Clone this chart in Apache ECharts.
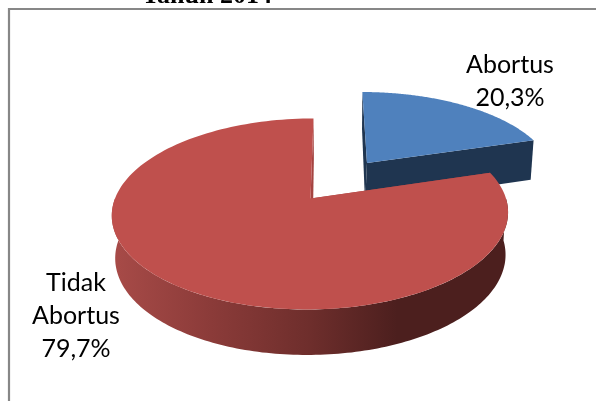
<!DOCTYPE html>
<html>
<head>
<meta charset="utf-8">
<style>html,body{margin:0;padding:0;background:#fff}#c{width:596px;height:401px}</style>
<script src="https://cdn.jsdelivr.net/npm/echarts@6/dist/echarts.min.js"></script>
</head>
<body>
<div id="c"></div>
<script>
const titleText = 'Tahun 2014';
const categories = ['Abortus', 'Tidak\nAbortus'];
const values = [20.3, 79.7];

// projection of the tilted disc
const P = 0.162, RX = 195.5, RY = 93, CX = 332, DX = -21.5, CY = 198.5, VANISH = 340;
const EXPLODE = [0.505, 0];
const TOP = ['#4f81bd', '#bf504d'];
const INNER = ['#1f3550', '#a54441'];
const LABELS = [{x: 510, y: 81}, {x: 76, y: 316}];
const FONT = 'Lato, "Open Sans", sans-serif';
const total = values.reduce((a, b) => a + b, 0);

function proj(u, v, z, k) {
  const s = 1 / (1 - P * v);
  let x = CX + (RX * u + DX) * s;
  const y = CY + RY * v * s + z * (42 + 3.5 * v);
  x = VANISH + (x - VANISH) * (1 - k * z);
  return [x, y];
}
function renderItem(params, api) {
  const i = params.dataIndex;
  let acc = 0;
  for (let j = 0; j < i; j++) acc += values[j];
  const a0 = acc / total * 2 * Math.PI;
  const a1 = (acc + api.value(0)) / total * 2 * Math.PI;
  const mid = (a0 + a1) / 2;
  const e = EXPLODE[i];
  const ou = e * Math.sin(mid), ov = -e * Math.cos(mid);
  const rim = (a, z, k) => proj(ou + Math.sin(a), ov - Math.cos(a), z, k);
  const apex = (z, k) => proj(ou, ov, z, k);
  const N = 160, top = [apex(0, 0)];
  for (let n = 0; n <= N; n++) top.push(rim(a0 + (a1 - a0) * n / N, 0, 0));

  const children = [];
  const poly = (points, fill) => children.push({type: 'polygon', shape: {points}, style: {fill}});
  // radial walls
  [a0, a1].forEach(a => poly([rim(a, 0, 0), apex(0, 0), apex(1, 0.07), rim(a, 1, 0.015)], INNER[i]));
  // outer wall, visible front part only
  const w0 = Math.max(a0, Math.PI / 2), w1 = Math.min(a1, Math.PI * 1.5);
  if (w1 > w0) {
    const up = [], down = [];
    for (let n = 0; n <= N; n++) {
      const a = w0 + (w1 - w0) * n / N;
      up.push(rim(a, 0, 0));
      down.unshift(rim(a, 1, 0.015));
    }
    poly(up.concat(down), {
      type: 'linear', global: true, x: 112, y: 0, x2: 508, y2: 0,
      colorStops: [
        {offset: 0, color: '#a84b48'},
        {offset: 0.25, color: '#8b3b39'},
        {offset: 0.5, color: '#6e2e2c'},
        {offset: 0.72, color: '#4c1f1e'},
        {offset: 1, color: '#4c1f1e'}
      ]
    });
  }
  poly(top, TOP[i]);
  children.push({
    type: 'text',
    style: {
      x: LABELS[i].x, y: LABELS[i].y,
      text: categories[i] + '\n' + String(values[i]).replace('.', ',') + '%',
      font: '25px ' + FONT, fill: '#000', align: 'center', verticalAlign: 'middle', lineHeight: 33
    }
  });
  return {type: 'group', children};
}

const chart = echarts.init(document.getElementById('c'), null, {renderer: 'canvas'});
chart.setOption({
  animation: false,
  backgroundColor: '#fff',
  graphic: [
    {type: 'rect', z: -1, shape: {x: 9, y: 9, width: 700, height: 500},
     style: {fill: 'none', stroke: '#878787', lineWidth: 2.2}},
    {type: 'text', z: 5, style: {x: 207, y: 9, text: titleText,
     font: 'bold 26px "Liberation Serif", serif', fill: '#000', align: 'center', verticalAlign: 'bottom'}}
  ],
  series: [{
    type: 'custom',
    coordinateSystem: 'none',
    renderItem,
    data: values.map(v => [v])
  }]
});
</script>
</body>
</html>
